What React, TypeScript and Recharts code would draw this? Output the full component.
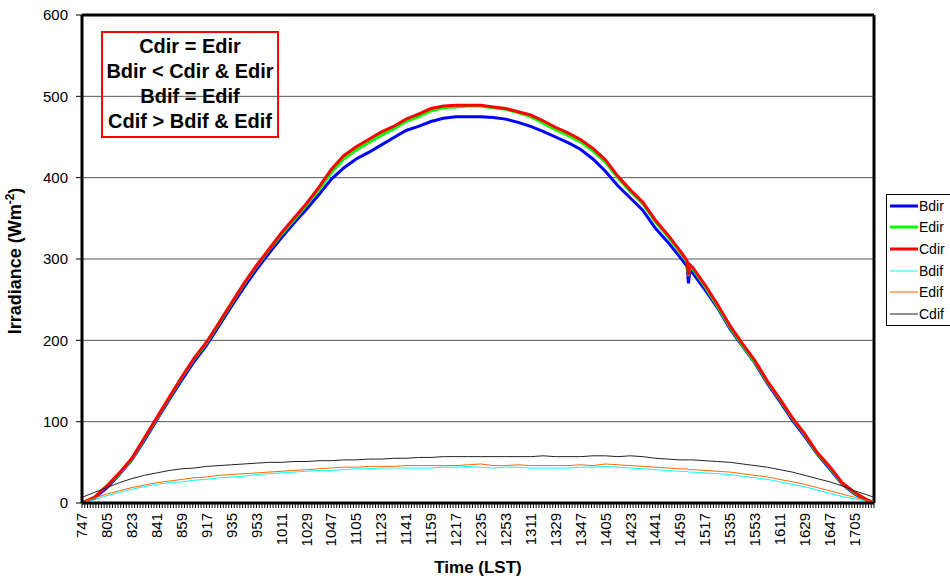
import { LineChart, Line, XAxis, YAxis, CartesianGrid, ReferenceLine, Legend, Label } from "recharts"

// local solar time, hmm
const TIMES = [
  "747", "756", "805", "814", "823", "832", "841", "850", "859", "908", "917", "926", "935", "944", "953",
  "1002", "1011", "1020", "1029", "1038", "1047", "1056", "1105", "1114", "1123", "1132", "1141", "1150", "1159",
  "1208", "1217", "1226", "1235", "1244", "1253", "1302", "1311", "1320", "1329", "1338", "1347", "1356",
  "1405", "1414", "1423", "1432", "1441", "1450", "1459", "1504", "1505", "1506", "1508", "1517", "1526", "1535",
  "1544", "1553", "1602", "1611", "1620", "1629", "1638", "1647", "1656", "1705", "1714", "1719",
]

const BDIR = [
  0, 6, 19, 35, 53, 77, 102, 127, 151, 174, 194, 218, 242, 265, 287,
  307, 326, 344, 361, 379, 398, 412, 423, 431, 440, 449, 458, 463, 469,
  473, 475, 475, 475, 474, 472, 468, 463, 457, 450, 443, 435, 423,
  408, 390, 375, 360, 338, 321, 302, 291, 270, 286, 283, 262, 240, 214,
  193, 172, 147, 125, 102, 82, 60, 42, 23, 11, 3, 0,
]

const EDIR = [
  0, 7, 21, 36, 54, 79, 104, 129, 154, 177, 197, 221, 245, 269, 291,
  311, 330, 348, 366, 385, 406, 423, 434, 443, 452, 460, 469, 475, 482,
  486, 487, 488, 488, 486, 484, 480, 475, 467, 459, 452, 444, 433,
  419, 400, 383, 368, 346, 328, 308, 296, 279, 291, 288, 266, 242, 216,
  194, 173, 149, 127, 104, 84, 61, 44, 24, 12, 4, 0,
]

const CDIR = [
  0, 7, 21, 37, 55, 80, 105, 130, 155, 178, 198, 222, 246, 270, 292,
  312, 332, 350, 368, 388, 410, 427, 438, 447, 456, 463, 472, 478, 485,
  488, 489, 489, 489, 487, 485, 481, 477, 470, 462, 455, 447, 436,
  422, 402, 385, 370, 348, 330, 310, 298, 280, 293, 290, 268, 244, 218,
  196, 175, 150, 128, 105, 85, 62, 45, 25, 13, 4, 0,
]

const BDIF = [
  0, 4, 9, 13, 17, 20, 23, 25, 26, 28, 29, 31, 32, 33, 35,
  36, 37, 38, 39, 40, 40, 41, 42, 42, 43, 43, 43, 43, 43,
  44, 44, 45, 44, 43, 44, 44, 43, 43, 43, 43, 44, 44,
  45, 44, 43, 42, 41, 40, 39, 39, 38, 38, 38, 37, 36, 35,
  33, 31, 29, 26, 23, 20, 16, 12, 8, 5, 2, 0,
]

const EDIF = [
  1, 6, 11, 15, 19, 22, 25, 27, 29, 31, 32, 34, 35, 36, 37,
  38, 39, 40, 41, 42, 43, 44, 44, 45, 45, 45, 46, 46, 46,
  46, 46, 47, 48, 46, 46, 47, 46, 46, 46, 46, 47, 46,
  48, 47, 46, 45, 44, 43, 42, 42, 41, 41, 41, 40, 39, 38,
  36, 34, 32, 29, 26, 23, 19, 15, 11, 7, 3, 1,
]

const CDIF = [
  7, 13, 19, 25, 30, 34, 37, 40, 42, 43, 45, 46, 47, 48, 49,
  50, 50, 51, 51, 52, 52, 53, 53, 54, 54, 55, 55, 56, 56,
  57, 57, 57, 57, 57, 57, 57, 57, 58, 57, 57, 57, 58,
  58, 57, 58, 57, 55, 54, 53, 53, 53, 53, 53, 52, 51, 50,
  48, 46, 44, 41, 38, 34, 30, 26, 21, 15, 10, 7,
]

const TICK_LABELS = [
  "747", "805", "823", "841", "859", "917", "935", "953", "1011", "1029", "1047", "1105", "1123", "1141",
  "1159", "1217", "1235", "1253", "1311", "1329", "1347", "1405", "1423", "1441", "1459", "1517", "1535",
  "1553", "1611", "1629", "1647", "1705",
]

const Y_TICKS = [0, 100, 200, 300, 400, 500, 600]

const SERIES = [
  { key: "Bdir", values: BDIR, color: "#0000FF", width: 3 },
  { key: "Edir", values: EDIR, color: "#00FF00", width: 3 },
  { key: "Cdir", values: CDIR, color: "#FF0000", width: 3 },
  { key: "Bdif", values: BDIF, color: "#00FFFF", width: 1 },
  { key: "Edif", values: EDIF, color: "#FF6600", width: 1 },
  { key: "Cdif", values: CDIF, color: "#222222", width: 1 },
]

const NOTES = ["Cdir = Edir", "Bdir < Cdir & Edir", "Bdif = Edif", "Cdif > Bdif & Edif"]

const FONT = '"Liberation Sans", Arial, sans-serif'

// "1423" -> minutes since midnight
const toMinutes = (t: string) => {
  const n = parseInt(t, 10)
  return Math.floor(n / 100) * 60 + (n % 100)
}

const data = TIMES.map((t, i) => {
  const row: Record<string, number> = { t: toMinutes(t) }
  SERIES.forEach((s) => {
    row[s.key] = s.values[i]
  })
  return row
})

const X_START = toMinutes(TIMES[0])
const X_END = toMinutes(TIMES[TIMES.length - 1])

// small tick marks every 2 min, labels only on the listed ones
const xTicks: number[] = []
for (let m = X_START; m <= X_END; m += 2) xTicks.push(m)
const labelAt = new Map(TICK_LABELS.map((l) => [toMinutes(l), l]))

const TimeTick = (props: any) => {
  const { x, y, payload } = props
  const label = labelAt.get(payload.value)
  if (!label) return null
  return (
    <text
      x={x}
      y={y}
      transform={`rotate(-90, ${x}, ${y})`}
      textAnchor="end"
      dy="0.35em"
      fontSize={15}
      fill="#000"
    >
      {label}
    </text>
  )
}

const YTitle = () => (
  <text transform="translate(21, 261) rotate(-90)" textAnchor="middle" fontSize={18} fontWeight="bold" fill="#000">
    Irradiance (Wm
    <tspan dy={-7} fontSize={12}>-2</tspan>
    <tspan dy={7}>)</tspan>
  </text>
)

const renderLegend = () => (
  <div style={{ border: "1px solid #000", background: "#fff", width: 72, fontSize: 14 }}>
    {SERIES.map((s) => (
      <div key={s.key} style={{ display: "flex", alignItems: "center", height: 21.6 }}>
        <svg width={32} height={10} style={{ display: "block" }}>
          <line x1={3} x2={31} y1={5} y2={5} stroke={s.color} strokeWidth={s.width} />
        </svg>
        <span style={{ color: "#000" }}>{s.key}</span>
      </div>
    ))}
  </div>
)

export default function App() {
  return (
    <div
      style={{
        position: "absolute",
        left: 0,
        top: 0,
        width: 950,
        height: 578,
        overflow: "hidden",
        background: "#fff",
        fontFamily: FONT,
      }}
    >
      <LineChart width={950} height={578} data={data} margin={{ top: 15, right: 76, bottom: 0, left: 0 }}>
        <CartesianGrid vertical={false} stroke="#555" />
        <XAxis
          type="number"
          dataKey="t"
          domain={[X_START, X_END]}
          ticks={xTicks}
          interval={0}
          tick={<TimeTick />}
          tickSize={5}
          tickMargin={5}
          height={75}
          axisLine={{ stroke: "#000", strokeWidth: 3 }}
          tickLine={{ stroke: "#000" }}
          allowDataOverflow
        >
          <Label
            value="Time (LST)"
            position="insideBottom"
            offset={5}
            style={{ fontSize: 17, fontWeight: "bold", fill: "#000" }}
          />
        </XAxis>
        <YAxis
          domain={[0, 600]}
          ticks={Y_TICKS}
          width={82}
          tickSize={6}
          tickMargin={8}
          tick={{ fill: "#000", fontSize: 15 }}
          axisLine={{ stroke: "#000", strokeWidth: 3 }}
          tickLine={{ stroke: "#000" }}
        >
          <Label content={<YTitle />} />
        </YAxis>
        <ReferenceLine y={600} stroke="#000" strokeWidth={3} />
        <ReferenceLine x={X_END} stroke="#000" strokeWidth={3} />
        {SERIES.map((s) => (
          <Line
            key={s.key}
            type="linear"
            dataKey={s.key}
            stroke={s.color}
            strokeWidth={s.width}
            dot={false}
            activeDot={false}
            isAnimationActive={false}
          />
        ))}
        <Legend
          layout="vertical"
          align="center"
          verticalAlign="middle"
          content={renderLegend}
          wrapperStyle={{ left: 886, top: 194, width: 74, height: 132 }}
        />
      </LineChart>
      <div
        style={{
          position: "absolute",
          left: 101,
          top: 31,
          width: 174,
          height: 102,
          border: "2px solid #FF0000",
          textAlign: "center",
          fontWeight: "bold",
          fontSize: 20,
          lineHeight: "25px",
          paddingTop: 1,
          boxSizing: "content-box",
          whiteSpace: "nowrap",
        }}
      >
        {NOTES.map((n) => (
          <div key={n}>{n}</div>
        ))}
      </div>
    </div>
  )
}
